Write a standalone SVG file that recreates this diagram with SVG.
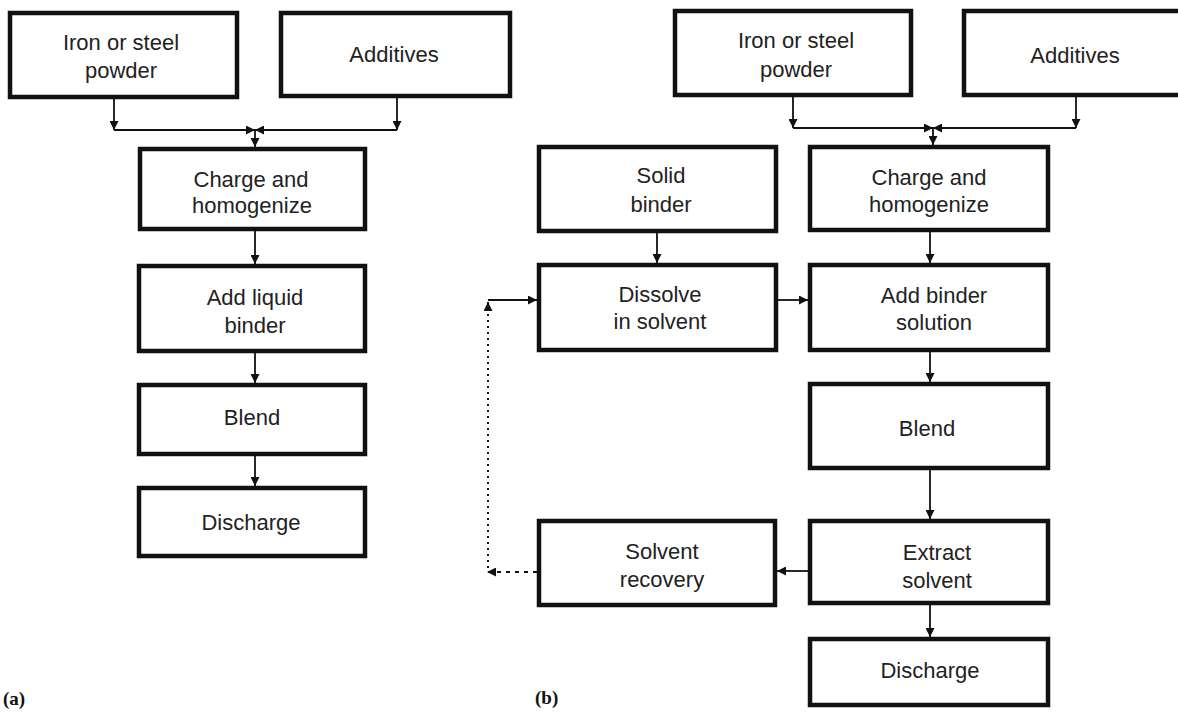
<svg xmlns="http://www.w3.org/2000/svg" width="1178" height="712" viewBox="0 0 1178 712">
<defs>
<marker id="ah" viewBox="0 0 10 10" refX="10" refY="5" markerWidth="9" markerHeight="9" markerUnits="userSpaceOnUse" orient="auto"><path d="M0,0 L10,5 L0,10 z" fill="#111"/></marker>
<style>
.box{fill:#fff;stroke:#111;stroke-width:4.5}
.t{font-family:"Liberation Sans",Arial,Helvetica,sans-serif;font-size:22px;fill:#222;text-anchor:middle}
.c{fill:none;stroke:#111;stroke-width:1.8}
.dot{fill:none;stroke:#111;stroke-width:2;stroke-dasharray:2 4}
.dash{fill:none;stroke:#111;stroke-width:1.8;stroke-dasharray:4 5}
.lab{font-family:"Liberation Serif","Times New Roman",serif;font-weight:bold;font-size:19px;fill:#111}
</style>
</defs>
<rect width="1178" height="712" fill="#fff"/>

<g id="a-iron"><rect class="box" x="10" y="13" width="227" height="84"/><text class="t" x="121" y="50">Iron or steel</text><text class="t" x="121" y="78">powder</text></g>
<g id="a-additives"><rect class="box" x="281" y="13" width="229" height="83"/><text class="t" x="394" y="62">Additives</text></g>
<g id="a-charge"><rect class="box" x="140" y="149" width="225" height="80"/><text class="t" x="251" y="187">Charge and</text><text class="t" x="252" y="213">homogenize</text></g>
<g id="a-addliquid"><rect class="box" x="139" y="266" width="226" height="85"/><text class="t" x="255" y="305">Add liquid</text><text class="t" x="255" y="333">binder</text></g>
<g id="a-blend"><rect class="box" x="139" y="385" width="226" height="69"/><text class="t" x="252" y="425">Blend</text></g>
<g id="a-discharge"><rect class="box" x="139" y="488" width="226" height="68"/><text class="t" x="251" y="530">Discharge</text></g>

<g id="b-iron"><rect class="box" x="675" y="11" width="236" height="84"/><text class="t" x="796" y="48">Iron or steel</text><text class="t" x="796" y="77">powder</text></g>
<g id="b-additives"><rect class="box" x="964" y="11" width="236" height="84"/><text class="t" x="1075" y="63">Additives</text></g>
<g id="b-solid"><rect class="box" x="539" y="147" width="237" height="84"/><text class="t" x="661" y="183">Solid</text><text class="t" x="661" y="212">binder</text></g>
<g id="b-charge"><rect class="box" x="810" y="147" width="238" height="83"/><text class="t" x="929" y="185">Charge and</text><text class="t" x="929" y="212">homogenize</text></g>
<g id="b-dissolve"><rect class="box" x="539" y="265" width="237" height="85"/><text class="t" x="660" y="302">Dissolve</text><text class="t" x="660" y="329">in solvent</text></g>
<g id="b-addbinder"><rect class="box" x="810" y="265" width="238" height="85"/><text class="t" x="934" y="303">Add binder</text><text class="t" x="934" y="330">solution</text></g>
<g id="b-blend"><rect class="box" x="810" y="384" width="238" height="84"/><text class="t" x="927" y="436">Blend</text></g>
<g id="b-recovery"><rect class="box" x="539" y="521" width="236" height="84"/><text class="t" x="662" y="559">Solvent</text><text class="t" x="662" y="587">recovery</text></g>
<g id="b-extract"><rect class="box" x="810" y="521" width="238" height="82"/><text class="t" x="937" y="560">Extract</text><text class="t" x="937" y="588">solvent</text></g>
<g id="b-discharge"><rect class="box" x="810" y="639" width="238" height="66"/><text class="t" x="930" y="678">Discharge</text></g>

<g id="connectors">
<path class="c" d="M114,99 V130" marker-end="url(#ah)"/>
<path class="c" d="M397,98 V130" marker-end="url(#ah)"/>
<path class="c" d="M114,130 H255" marker-end="url(#ah)"/>
<path class="c" d="M397,130 H255" marker-end="url(#ah)"/>
<path class="c" d="M255,130 V147" marker-end="url(#ah)"/>
<path class="c" d="M255,231 V264" marker-end="url(#ah)"/>
<path class="c" d="M255,353 V383" marker-end="url(#ah)"/>
<path class="c" d="M255,456 V486" marker-end="url(#ah)"/>

<path class="c" d="M793,97 V128" marker-end="url(#ah)"/>
<path class="c" d="M1076,97 V128" marker-end="url(#ah)"/>
<path class="c" d="M793,128 H933" marker-end="url(#ah)"/>
<path class="c" d="M1076,128 H933" marker-end="url(#ah)"/>
<path class="c" d="M933,128 V145" marker-end="url(#ah)"/>
<path class="c" d="M657,233 V263" marker-end="url(#ah)"/>
<path class="c" d="M930,232 V263" marker-end="url(#ah)"/>
<path class="c" d="M778,300 H808" marker-end="url(#ah)"/>
<path class="c" d="M488,300 H537" marker-end="url(#ah)"/>
<path class="dot" d="M488,568 V302" marker-end="url(#ah)"/>
<path class="dash" d="M537,572 H487" marker-end="url(#ah)"/>
<path class="c" d="M808,571 H777" marker-end="url(#ah)"/>
<path class="c" d="M930,352 V382" marker-end="url(#ah)"/>
<path class="c" d="M930,470 V519" marker-end="url(#ah)"/>
<path class="c" d="M930,605 V637" marker-end="url(#ah)"/>
</g>

<text class="lab" x="3" y="705">(a)</text>
<text class="lab" x="535" y="704">(b)</text>
</svg>
